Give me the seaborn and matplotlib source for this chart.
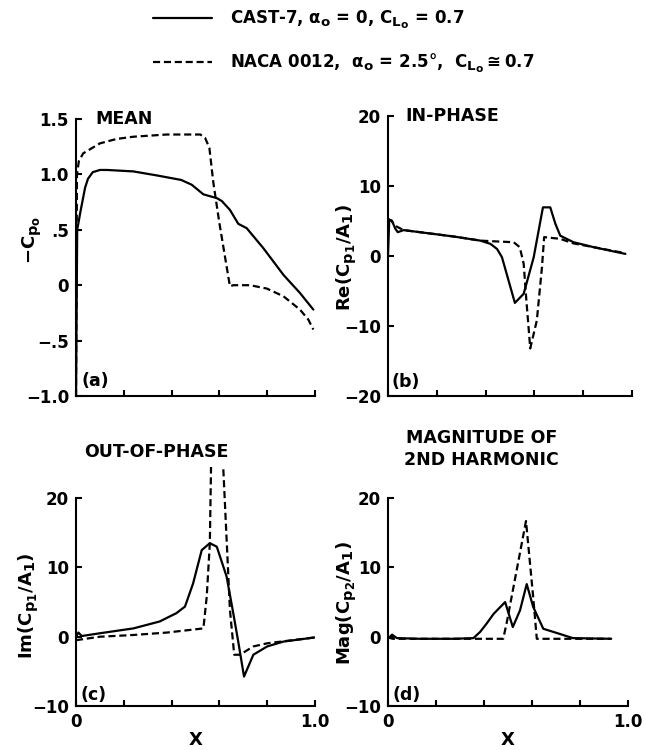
import numpy as np
import pandas as pd
import matplotlib
matplotlib.use("Agg")
import matplotlib.pyplot as plt
import matplotlib._mathtext as _mt
from matplotlib.lines import Line2D
import seaborn as sns

# ---------------- data ----------------
series_names = ["CAST-7", "NACA 0012"]

# (a) mean pressure, -Cp0
a_cast_x = [0.0, 0.005, 0.02, 0.038, 0.05, 0.07, 0.10, 0.13, 0.24, 0.34, 0.44, 0.484, 0.533, 0.589, 0.61, 0.644, 0.679, 0.714, 0.784, 0.868, 0.937, 0.993]
a_cast_y = [-1.0, 0.5, 0.68, 0.88, 0.96, 1.02, 1.04, 1.04, 1.027, 0.99, 0.95, 0.907, 0.82, 0.786, 0.76, 0.68, 0.554, 0.515, 0.334, 0.093, -0.07, -0.22]
a_naca_x = [0.0, 0.004, 0.012, 0.03, 0.10, 0.17, 0.24, 0.38, 0.52, 0.54, 0.558, 0.575, 0.60, 0.644, 0.658, 0.728, 0.798, 0.868, 0.937, 0.972, 0.993]
a_naca_y = [-1.0, 1.0, 1.12, 1.19, 1.28, 1.32, 1.34, 1.36, 1.36, 1.33, 1.24, 0.92, 0.56, -0.01, 0.0, 0.0, -0.03, -0.10, -0.22, -0.31, -0.40]

# (b) in-phase, Re(Cp1/A1)
b_cast_x = [0.0, 0.005, 0.016, 0.03, 0.04, 0.064, 0.27, 0.378, 0.42, 0.447, 0.467, 0.52, 0.556, 0.597, 0.635, 0.665, 0.686, 0.706, 0.76, 0.843, 0.973]
b_cast_y = [0.0, 5.2, 5.05, 3.9, 3.4, 3.7, 2.78, 2.2, 1.73, 1.0, -0.17, -6.7, -5.4, -0.2, 6.95, 6.95, 4.6, 2.9, 1.97, 1.26, 0.3]
b_naca_x = [0.0, 0.015, 0.03, 0.064, 0.27, 0.378, 0.433, 0.515, 0.54, 0.556, 0.567, 0.583, 0.61, 0.631, 0.64, 0.706, 0.76, 0.843, 0.973]
b_naca_y = [5.3, 5.0, 4.3, 3.7, 2.78, 2.2, 2.1, 1.97, 1.26, -1.1, -6.3, -13.2, -9.2, -1.6, 2.7, 2.45, 1.8, 1.26, 0.4]

# (c) out-of-phase, Im(Cp1/A1)
c_cast_x = [0.0, 0.01, 0.024, 0.10, 0.24, 0.35, 0.42, 0.456, 0.49, 0.526, 0.56, 0.589, 0.63, 0.658, 0.68, 0.703, 0.742, 0.80, 0.868, 1.0]
c_cast_y = [0.0, 0.6, 0.1, 0.5, 1.2, 2.2, 3.4, 4.35, 7.7, 12.5, 13.5, 13.0, 8.7, 3.4, -0.95, -5.75, -2.6, -1.4, -0.7, -0.1]
c_naca_x = [0.0, 0.10, 0.24, 0.38, 0.533, 0.547, 0.56, 0.565, 0.59, 0.616, 0.644, 0.662, 0.686, 0.742, 0.80, 1.0]
c_naca_y = [-0.5, 0.0, 0.25, 0.6, 1.2, 5.8, 13.5, 24.5, 60.0, 24.5, 3.9, -2.6, -2.6, -1.4, -0.95, -0.1]

# (d) magnitude of 2nd harmonic, Mag(Cp2/A1)
d_cast_x = [0.0, 0.017, 0.037, 0.134, 0.273, 0.356, 0.384, 0.411, 0.44, 0.488, 0.52, 0.55, 0.578, 0.605, 0.647, 0.716, 0.77, 0.93]
d_cast_y = [-0.3, 0.3, -0.2, -0.3, -0.3, -0.2, 0.7, 1.9, 3.3, 5.0, 1.4, 3.8, 7.6, 4.3, 1.15, 0.4, -0.2, -0.3]
d_naca_x = [0.0, 0.02, 0.48, 0.494, 0.575, 0.605, 0.62, 0.93]
d_naca_y = [-0.1, -0.3, -0.3, 1.9, 16.7, 5.7, -0.3, -0.3]

x_ticks = [0.0, 0.2, 0.4, 0.6, 0.8, 1.0]
a_yticks = [-1.0, -0.5, 0.0, 0.5, 1.0, 1.5]
a_yticklabels = ["\u22121.0", "\u2212.5", "0", ".5", "1.0", "1.5"]
b_yticks = [-20, -10, 0, 10, 20]
b_yticklabels = ["\u221220", "\u221210", "0", "10", "20"]
cd_yticks = [-10, 0, 10, 20]
cd_yticklabels = ["\u221210", "0", "10", "20"]
bottom_xticklabels = ["0", "", "", "", "", "1.0"]

legend_labels = [
    r"CAST-7, $\alpha_o$ = 0, C$_{L_o}$ = 0.7",
    r"NACA 0012,  $\alpha_o$ = 2.5$\degree$,  C$_{L_o}$$\cong$0.7",
]

# ---------------- style ----------------
sns.set_theme(style="ticks")
plt.rcParams["font.family"] = ["DejaVu Sans"]
plt.rcParams["font.weight"] = "bold"
plt.rcParams["axes.labelweight"] = "bold"
plt.rcParams["text.color"] = "black"
plt.rcParams["axes.labelcolor"] = "black"
plt.rcParams["xtick.color"] = "black"
plt.rcParams["ytick.color"] = "black"
plt.rcParams["axes.edgecolor"] = "black"
plt.rcParams["mathtext.fontset"] = "custom"
plt.rcParams["mathtext.rm"] = "DejaVu Sans:bold"
plt.rcParams["mathtext.it"] = "DejaVu Sans:bold"
plt.rcParams["mathtext.bf"] = "DejaVu Sans:bold"
plt.rcParams["mathtext.sf"] = "DejaVu Sans:bold"
plt.rcParams["mathtext.default"] = "rm"
plt.rcParams["mathtext.fallback"] = "stixsans"
plt.rcParams["axes.linewidth"] = 1.5
plt.rcParams["xtick.major.width"] = 1.5
plt.rcParams["ytick.major.width"] = 1.5
try:
    _mt.SHRINK_FACTOR = 0.8
except Exception:
    pass

FS = 12
FT = 12.5
FL = 13
LW = 1.6
DASH = (3.2, 1.7)
dash_map = {"CAST-7": "", "NACA 0012": DASH}

fig = plt.figure(figsize=(6.46, 7.5), dpi=100)

W, H = 646.0, 750.0
def add_ax(left, top, right, bottom):
    return fig.add_axes([left / W, 1 - bottom / H, (right - left) / W, (bottom - top) / H])

ax_a = add_ax(76, 119, 315, 396)
ax_b = add_ax(388, 116, 632, 396)
ax_c = add_ax(76, 467, 315, 706)
ax_d = add_ax(388, 467, 628, 706)

def frame(xc, yc, xn, yn):
    return pd.concat([
        pd.DataFrame({"x": xc, "y": yc, "series": "CAST-7"}),
        pd.DataFrame({"x": xn, "y": yn, "series": "NACA 0012"}),
    ], ignore_index=True)

panels = [
    (ax_a, frame(a_cast_x, a_cast_y, a_naca_x, a_naca_y), (-1.0, 1.5), (-1.0, 1.5), a_yticks, a_yticklabels,
     r"$-C_{p_o}$", (-0.138, 0.563), "(a)", (0.025, 0.054)),
    (ax_b, frame(b_cast_x, b_cast_y, b_naca_x, b_naca_y), (-20, 20), (-20, 20), b_yticks, b_yticklabels,
     r"Re(C$_{p_1}$/A$_1$)", (-0.123, 0.495), "(b)", (0.016, 0.05)),
    (ax_c, frame(c_cast_x, c_cast_y, c_naca_x, c_naca_y), (-10, 24.5), (-10, 20), cd_yticks, cd_yticklabels,
     r"Im(C$_{p_1}$/A$_1$)", (-0.151, 0.418), "(c)", (0.017, 0.046)),
    (ax_d, frame(d_cast_x, d_cast_y, d_naca_x, d_naca_y), (-10, 24.5), (-10, 20), cd_yticks, cd_yticklabels,
     r"Mag(C$_{p_2}$/A$_1$)", (-0.125, 0.43), "(d)", (0.017, 0.046)),
]

for i, (ax, df, ylim, ybounds, yt, ytl, ylab, ylabpos, tag, tagpos) in enumerate(panels):
    sns.lineplot(data=df, x="x", y="y", style="series", dashes=dash_map,
                 color="black", lw=LW, estimator=None, sort=False,
                 legend=False, ax=ax)
    ax.set_xlim(0, 1.0)
    ax.set_ylim(*ylim)
    sns.despine(ax=ax)
    ax.spines["left"].set_bounds(*ybounds)
    ax.set_yticks(yt)
    ax.set_yticklabels(ytl, fontsize=FS, fontweight="bold", color="black")
    ax.set_xticks(x_ticks)
    if i >= 2:
        ax.set_xticklabels(bottom_xticklabels, fontsize=FS, fontweight="bold", color="black")
        ax.set_xlabel("X", fontsize=FL, fontweight="bold", labelpad=0, color="black")
    else:
        ax.set_xticklabels([""] * len(x_ticks))
        ax.set_xlabel("")
    ax.tick_params(axis="both", direction="in", length=4, width=1.5, pad=5, colors="black")
    ax.set_ylabel(ylab, fontsize=FL, fontweight="bold", color="black")
    ax.yaxis.set_label_coords(*ylabpos)
    ax.text(tagpos[0], tagpos[1], tag, transform=ax.transAxes, fontsize=FT,
            fontweight="bold", ha="left", va="center", color="black")
    for sp in ax.spines.values():
        sp.set_color("black")

ax_a.text(0.08, 1.0, "MEAN", transform=ax_a.transAxes, fontsize=FT, fontweight="bold", ha="left", va="center", color="black")
ax_b.text(0.07, 1.0, "IN-PHASE", transform=ax_b.transAxes, fontsize=FT, fontweight="bold", ha="left", va="center", color="black")
ax_c.text(0.335, 1.063, "OUT-OF-PHASE", transform=ax_c.transAxes, fontsize=FT, fontweight="bold", ha="center", va="center", color="black")
ax_d.text(0.39, 1.075, "MAGNITUDE OF\n2ND HARMONIC", transform=ax_d.transAxes, fontsize=FT, fontweight="bold",
          ha="center", va="center", linespacing=1.25, color="black")

handles = [Line2D([], [], color="black", lw=LW),
           Line2D([], [], color="black", lw=LW, dashes=DASH)]
fig.legend(handles, legend_labels, loc="upper left", bbox_to_anchor=(153 / W, 0.988),
           frameon=False, borderpad=0, borderaxespad=0, handlelength=3.55, handletextpad=1.05,
           labelspacing=1.2, prop={"weight": "bold", "size": 12}, labelcolor="black")

fig.savefig("out.png", dpi=100)
